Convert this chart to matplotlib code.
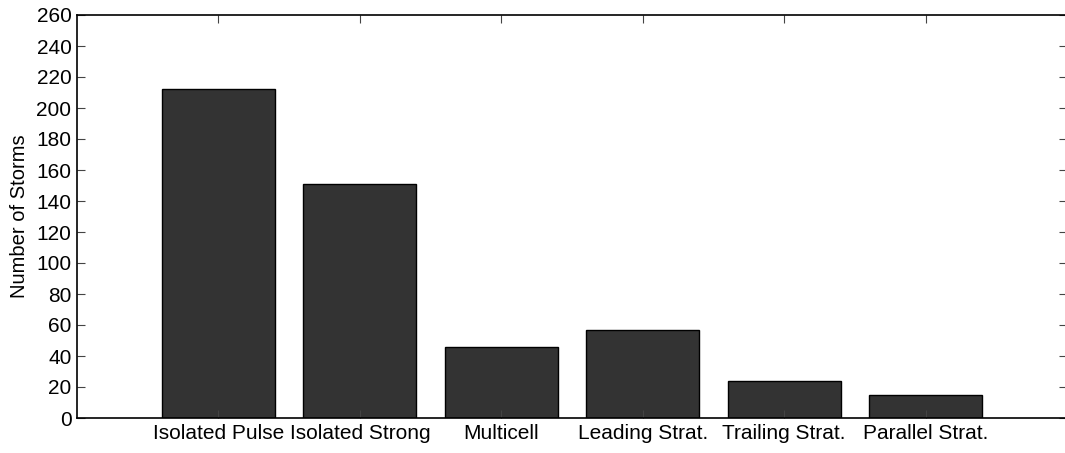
import matplotlib
matplotlib.use('Agg')
import matplotlib.pyplot as plt

categories = ['Isolated Pulse', 'Isolated Strong', 'Multicell',
              'Leading Strat.', 'Trailing Strat.', 'Parallel Strat.']
counts = [212, 151, 46, 57, 24, 15]
yticks = list(range(0, 261, 20))

plt.rcParams['font.family'] = ['Liberation Sans', 'DejaVu Sans']

fig = plt.figure(figsize=(10.65, 4.53), dpi=100)
ax = fig.add_axes([77 / 1065, 1 - 418 / 453, 988 / 1065 + 0.002, 403 / 453])

pos = range(1, len(categories) + 1)
ax.bar(pos, counts, width=0.8, color='#333333', edgecolor='black', linewidth=1.0)

ax.set_xlim(0, 7)
ax.set_ylim(0, 260)
ax.set_xticks(list(pos))
ax.set_xticklabels(categories, fontsize=15)
ax.set_yticks(yticks)
ax.set_yticklabels([str(t) for t in yticks], fontsize=15)
ax.set_ylabel('Number of Storms', fontsize=14.5, labelpad=5)

ax.tick_params(direction='in', top=True, right=True, length=6, width=0.8,
               color='#444444', pad=4)
for s in ax.spines.values():
    s.set_linewidth(1.2)
ax.spines['right'].set_visible(False)

fig.savefig('out.png', dpi=100)
